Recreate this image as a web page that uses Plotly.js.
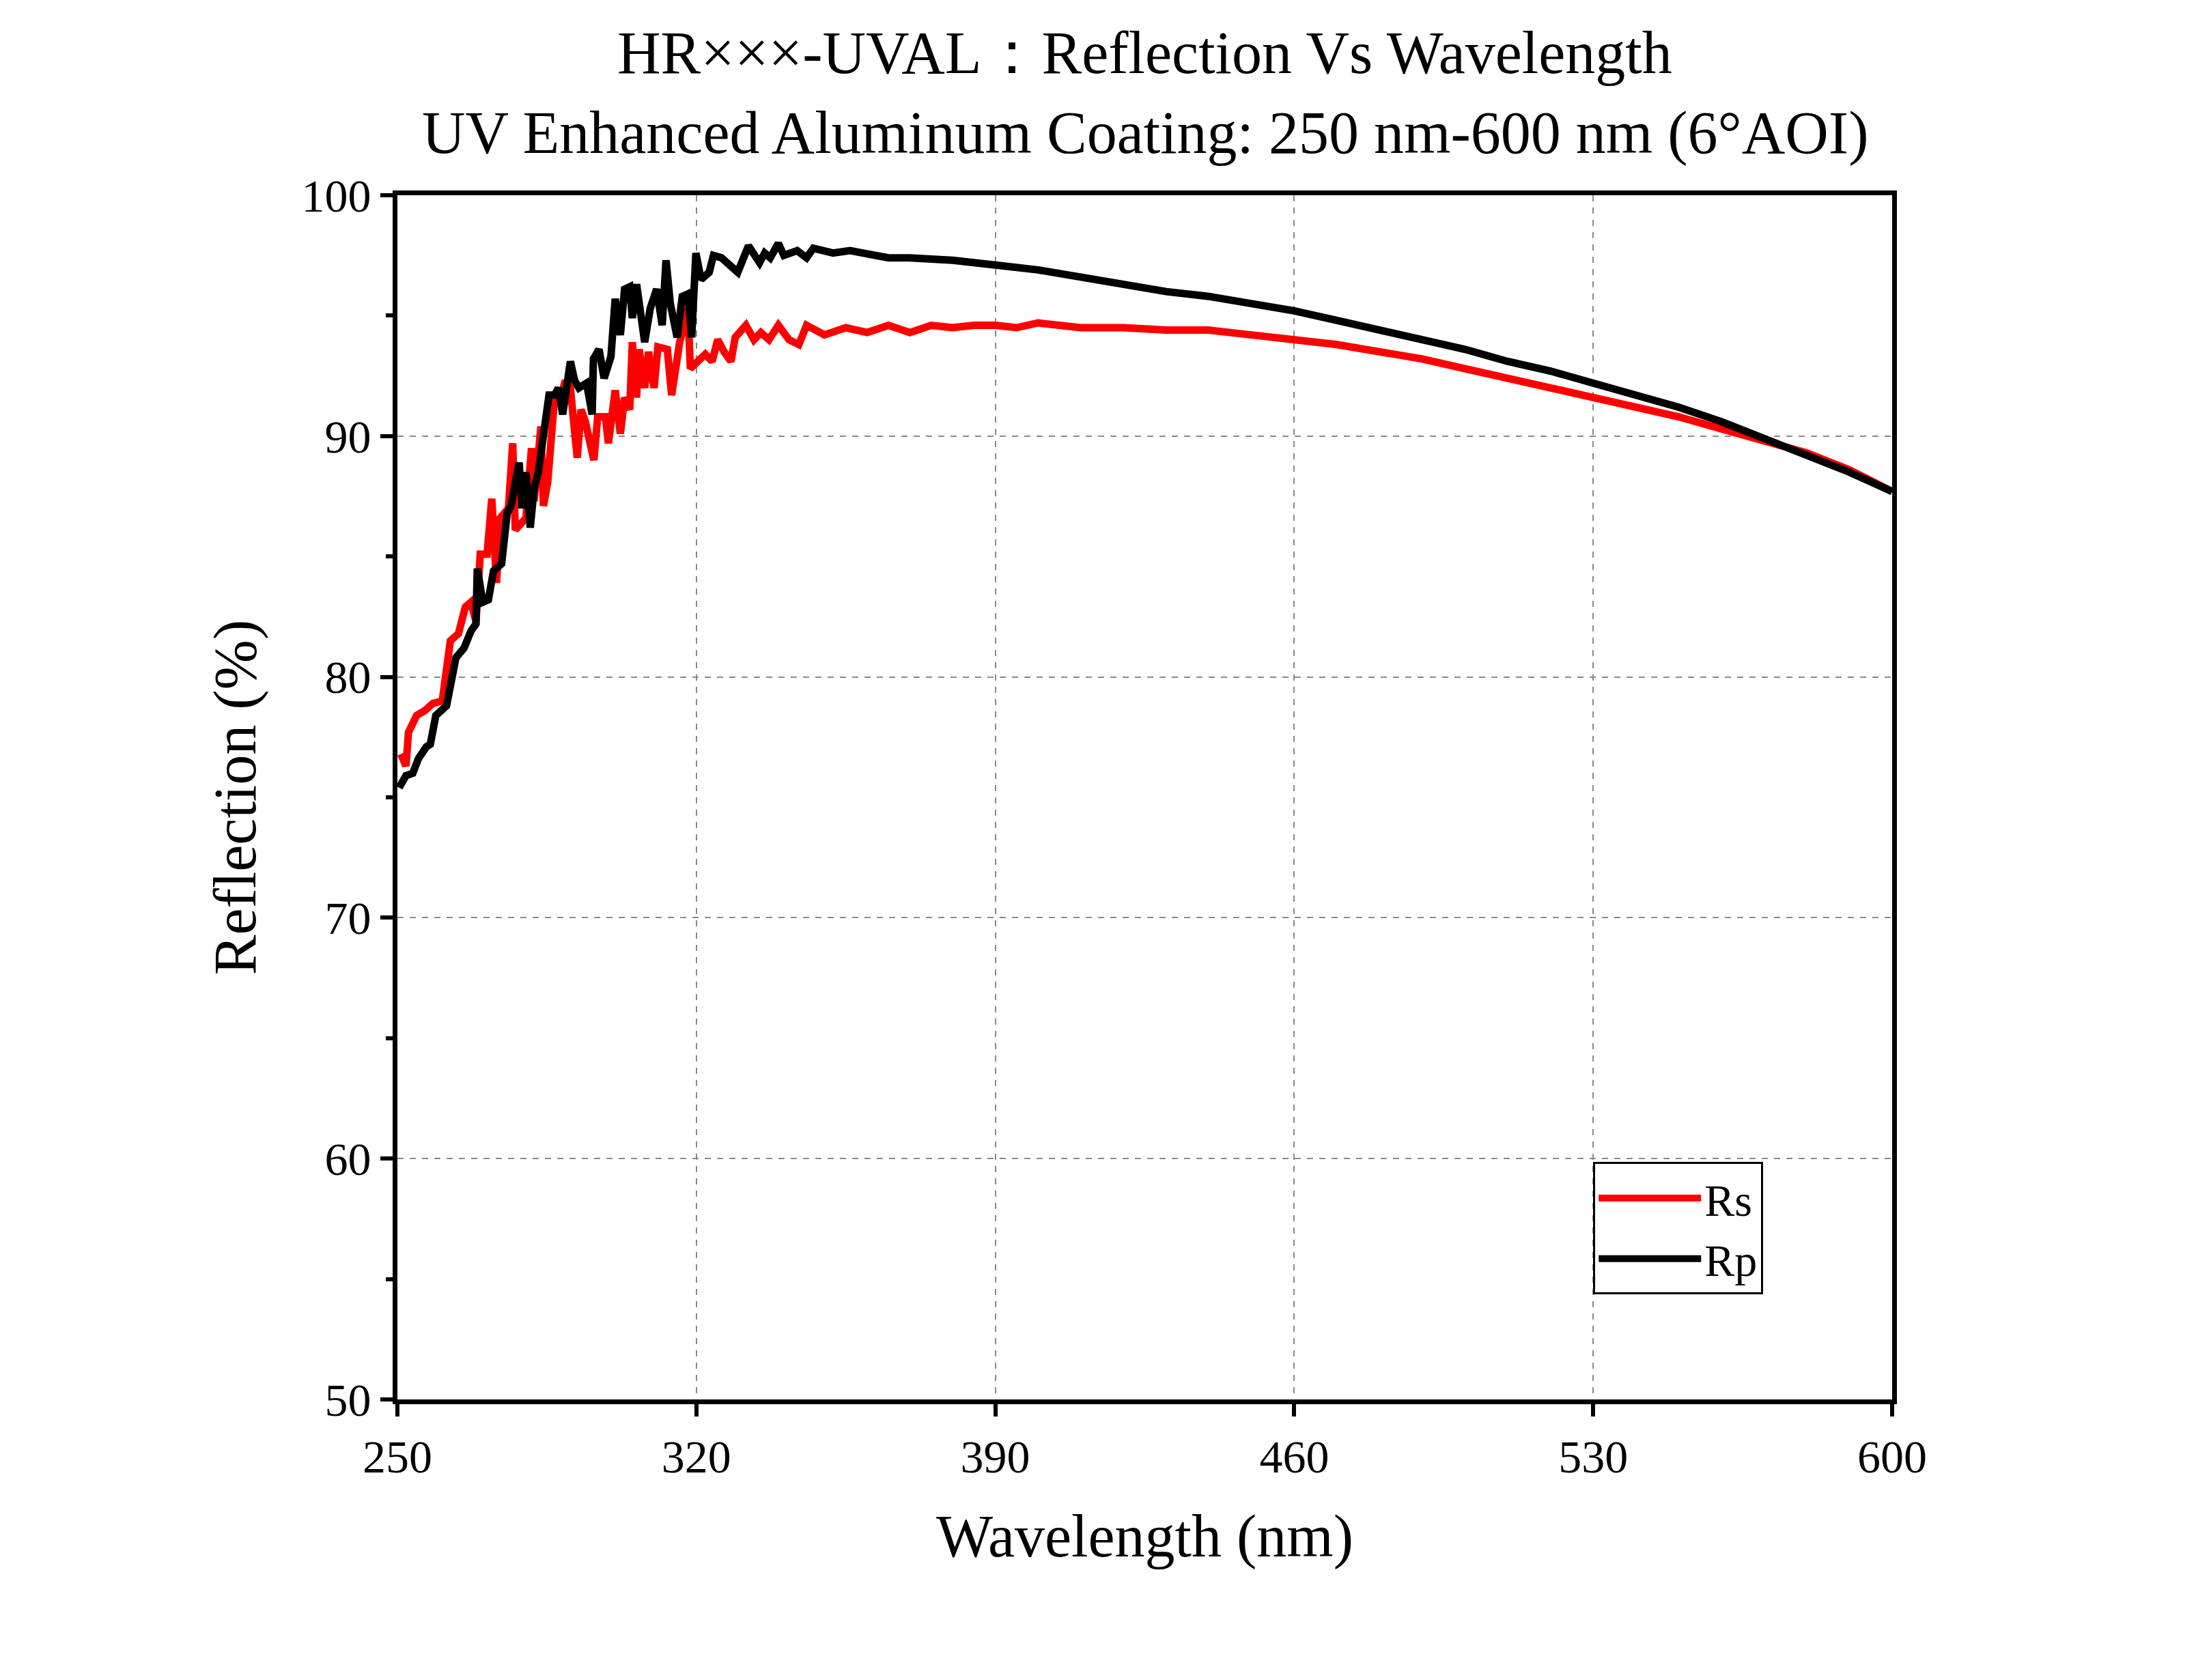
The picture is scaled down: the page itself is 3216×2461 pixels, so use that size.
<!DOCTYPE html>
<html>
<head>
<meta charset="utf-8">
<script src="https://cdn.plot.ly/plotly-3.0.1.min.js"></script>
<style>html,body{margin:0;padding:0;background:#fff}</style>
</head>
<body>
<div id="chart" style="width:3216px;height:2461px"></div>
<script>
const rsWavelength = [250.8,252,252.6,254.5,256.4,258.3,260.5,262.4,264.3,265.9,267.2,268.4,269.4,271,272.1,273.2,274.1,276,277,277.6,280.1,281.4,282,283.6,284.2,285.2,286.8,288.4,289.3,290.5,292.1,293,294,296,296.9,298.7,299.4,301,302.2,303.2,304.4,305,306,306.6,307.9,308.8,310.1,311,313.2,314.2,316.1,318,318.6,320.5,322.1,323.7,325,326.5,328.1,329.1,331.6,333.5,335.1,337,339.2,341.7,344,345.8,350,355,360,365,370,375,380,385,390,395,400,410,420,430,440,450,460,470,480,490,500,510,520,530,540,550,560,570,580,590,600];
const rsValues = [76.8,76.3,77.7,78.4,78.6,78.9,79.0,81.5,81.8,82.9,83.1,82.3,85.1,85.1,87.4,83.9,86.6,87.0,89.7,86.1,86.6,89.5,87.3,90.4,87.1,88.1,91.6,91.7,92.3,92.0,89.1,91.1,90.6,89.0,90.8,90.8,89.7,91.9,90.1,91.6,91.1,93.9,91.6,93.6,92.0,93.5,92.0,93.7,93.6,91.7,93.9,95.3,92.8,93.1,93.4,93.1,94.0,93.5,93.1,94.1,94.6,94.0,94.3,94.0,94.6,94.0,93.8,94.6,94.2,94.5,94.3,94.6,94.3,94.6,94.5,94.6,94.6,94.5,94.7,94.5,94.5,94.4,94.4,94.2,94.0,93.8,93.5,93.2,92.8,92.4,92.0,91.6,91.2,90.8,90.3,89.8,89.3,88.6,87.7];

const rpWavelength = [250.4,252,253.6,254.9,256.8,257.7,259,261.5,263.7,265.6,267.2,268.4,268.7,270,271.3,272.5,274.4,275.7,276.6,278.5,279.2,280.1,281.1,282,283,284.6,285.5,286.8,287.7,288.7,290.5,291.5,292.5,294.3,295.6,295.9,297.2,298.4,300,301,302.2,303.2,304.4,305,306,307.9,309.2,310.7,312,312.9,313.9,315.5,316.7,318,318.9,319.9,321.1,323,324,325.9,327.8,329.7,332.2,334.8,336,337.3,339.2,340.5,343.6,345.8,347.4,352,356,360,365,370,380,390,400,410,420,430,440,450,460,470,480,490,500,510,520,530,540,550,560,570,580,590,600];
const rpValues = [75.4,75.9,76.0,76.6,77.1,77.2,78.4,78.8,80.8,81.2,81.9,82.2,84.5,83.1,83.2,84.4,84.7,86.8,87.1,88.9,87.0,88.5,86.2,87.8,88.5,90.6,91.7,91.7,92.0,90.9,93.1,92.3,92.0,92.2,90.9,93.2,93.6,92.4,93.3,95.7,94.2,96.1,96.2,94.9,96.3,93.9,95.3,96.1,94.6,97.3,95.5,94.1,95.8,95.9,94.1,97.6,96.5,96.8,97.5,97.4,97.1,96.8,97.9,97.2,97.6,97.4,98.0,97.5,97.7,97.4,97.8,97.6,97.7,97.6,97.4,97.4,97.3,97.1,96.9,96.6,96.3,96.0,95.8,95.5,95.2,94.8,94.4,94.0,93.6,93.1,92.7,92.2,91.7,91.2,90.6,89.9,89.2,88.5,87.7];

const titleLines = ['HR×××-UVAL：Reflection Vs Wavelength', 'UV Enhanced Aluminum Coating: 250 nm-600 nm (6°AOI)'];

const serif = 'Liberation Serif, Times New Roman, serif';

const traces = [
  {x: rsWavelength, y: rsValues, name: 'Rs', mode: 'lines', line: {color: '#ff0000', width: 11}},
  {x: rpWavelength, y: rpValues, name: 'Rp', mode: 'lines', line: {color: '#000000', width: 11}}
];

const axisCommon = {
  showline: true, linecolor: '#000', linewidth: 7, mirror: true,
  ticks: 'outside', ticklen: 18, tickwidth: 6, tickcolor: '#000',
  showgrid: true, gridcolor: '#8a8a8a', gridwidth: 2, griddash: 'dash',
  zeroline: false, tickfont: {family: serif, size: 68, color: '#000'}
};

const layout = {
  width: 3216, height: 2461,
  paper_bgcolor: '#fff', plot_bgcolor: '#fff',
  margin: {l: 582, r: 445, t: 286, b: 411},
  annotations: [
    {text: titleLines[0], xref: 'paper', yref: 'paper', x: 0.5, y: 1.118, xanchor: 'center', yanchor: 'middle',
     showarrow: false, font: {family: serif, size: 88, color: '#000'}},
    {text: titleLines[1], xref: 'paper', yref: 'paper', x: 0.5, y: 1.052, xanchor: 'center', yanchor: 'middle',
     showarrow: false, font: {family: serif, size: 88, color: '#000'}}
  ],
  xaxis: Object.assign({}, axisCommon, {
    range: [250, 600], tickvals: [250, 320, 390, 460, 530, 600],
    title: {text: 'Wavelength (nm)', font: {family: serif, size: 88, color: '#000'}, standoff: 50}
  }),
  yaxis: Object.assign({}, axisCommon, {
    range: [50, 100], dtick: 10,
    minor: {dtick: 5, ticks: 'outside', ticklen: 10, tickwidth: 6, tickcolor: '#000', showgrid: false},
    title: {text: 'Reflection (%)', font: {family: serif, size: 88, color: '#000'}, standoff: 40}
  }),
  legend: {
    x: 0.80, y: 0.197, xanchor: 'left', yanchor: 'top',
    bgcolor: '#fff', bordercolor: '#000', borderwidth: 3, itemwidth: 150,
    font: {family: serif, size: 66, color: '#000'}, tracegroupgap: 0
  },
  showlegend: true
};

Plotly.newPlot('chart', traces, layout, {displayModeBar: false});
</script>
</body>
</html>
